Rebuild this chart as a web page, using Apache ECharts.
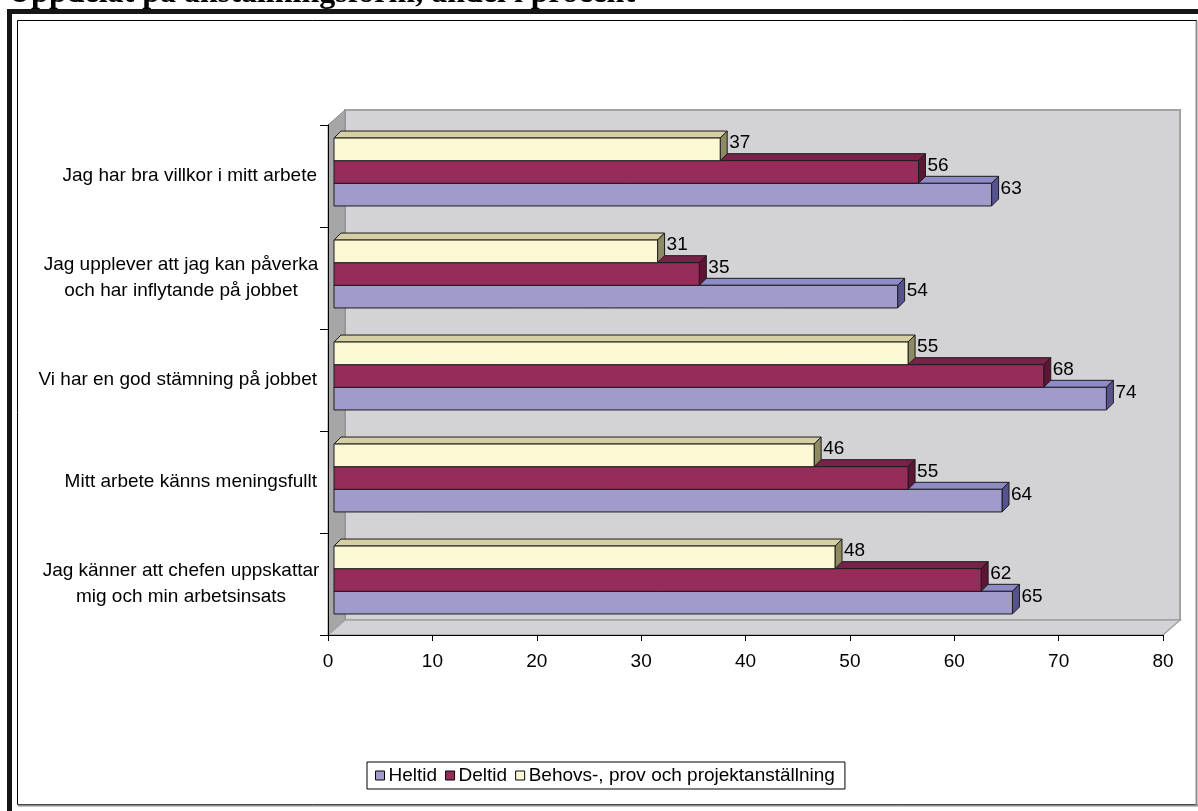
<!DOCTYPE html>
<html>
<head>
<meta charset="utf-8">
<script src="https://cdn.jsdelivr.net/npm/echarts@6/dist/echarts.min.js"></script>
<style>
html, body { margin: 0; padding: 0; background: #fff; }
#chart { width: 1198px; height: 811px; }
</style>
</head>
<body>
<div id="chart"></div>
<script>
// Statements, top to bottom
const categories = [
  'Jag har bra villkor i mitt arbete',
  'Jag upplever att jag kan påverka\noch har inflytande på jobbet',
  'Vi har en god stämning på jobbet',
  'Mitt arbete känns meningsfullt',
  'Jag känner att chefen uppskattar\nmig och min arbetsinsats'
];
const seriesNames = ['Heltid', 'Deltid', 'Behovs-, prov och projektanställning'];
const heltid = [63, 54, 74, 64, 65];
const deltid = [56, 35, 68, 55, 62];
const behovs = [37, 31, 55, 46, 48];
const xTicks = { min: 0, max: 80, interval: 10 };
const titleText = 'Uppdelat på anställningsform, andel i procent';

// Layout of the plot box (front plane) and the 3D depth
const GRID = { left: 328, top: 125, width: 835, height: 510 };
const WALL_DX = 17, WALL_DY = -15;   // depth of the walls
const BAR_DX = 7, BAR_DY = -7;       // depth of each bar
const OFF_X = 6, OFF_Y = -4;         // bars sit a little into the depth
const BAR_FRAC = 0.222;              // bar thickness as share of a category band

const FONT = '"Liberation Sans", Arial, sans-serif';

const palette = [
  { front: '#A09BCB', top: '#8F8BC6', side: '#55528F' },
  { front: '#962C5A', top: '#7A2149', side: '#5A1634' },
  { front: '#FCF8D4', top: '#D4D0A4', side: '#8E8B62' }
];

function renderBar(slot, colors) {
  return function (params, api) {
    const val = api.value(0);
    const cat = api.value(1);
    const base = api.coord([0, cat]);
    const end = api.coord([val, cat]);
    const band = api.size([0, 1])[1];
    const h = band * BAR_FRAC;
    const y0 = base[1] - 1.5 * h + slot * h + OFF_Y;
    const y1 = y0 + h;
    const x0 = base[0] + OFF_X;
    const x1 = end[0] + OFF_X;
    const edge = { stroke: '#1c1c1c', lineWidth: 1 };
    return {
      type: 'group',
      children: [
        { type: 'polygon', shape: { points: [[x0, y0], [x0 + BAR_DX, y0 + BAR_DY], [x1 + BAR_DX, y0 + BAR_DY], [x1, y0]] },
          style: Object.assign({ fill: colors.top }, edge) },
        { type: 'polygon', shape: { points: [[x1, y0], [x1 + BAR_DX, y0 + BAR_DY], [x1 + BAR_DX, y1 + BAR_DY], [x1, y1]] },
          style: Object.assign({ fill: colors.side }, edge) },
        { type: 'rect', shape: { x: x0, y: y0, width: x1 - x0, height: h },
          style: Object.assign({ fill: colors.front }, edge) },
        { type: 'text', x: x1 + BAR_DX + 2, y: y0 + 5, z2: 20,
          style: { text: String(val), fill: '#000', font: '19px ' + FONT, align: 'left', verticalAlign: 'middle' } }
      ]
    };
  };
}

const seriesValues = [heltid, deltid, behovs];
const slots = [2, 1, 0]; // Heltid lowest, Behovs topmost inside each band

const series = seriesValues.map((vals, s) => ({
  name: seriesNames[s],
  type: 'custom',
  z: 2 + s,
  renderItem: renderBar(slots[s], palette[s]),
  encode: { x: 0, y: 1 },
  itemStyle: { color: palette[s].front },
  data: vals.map((v, i) => [v, i])
}));

// Walls and floor of the 3D box
const gl = GRID.left, gt = GRID.top, gr = GRID.left + GRID.width, gb = GRID.top + GRID.height;
const walls = [
  { type: 'polygon', z: -10, shape: { points: [[gl + WALL_DX, gt + WALL_DY], [gr + WALL_DX, gt + WALL_DY], [gr + WALL_DX, gb + WALL_DY], [gl + WALL_DX, gb + WALL_DY]] },
    style: { fill: '#D3D3D6', stroke: '#A3A3A3', lineWidth: 2 } },
  { type: 'polygon', z: -10, shape: { points: [[gl, gt], [gl + WALL_DX, gt + WALL_DY], [gl + WALL_DX, gb + WALL_DY], [gl, gb]] },
    style: { fill: '#A6A6A6', stroke: '#8c8c8c', lineWidth: 1 } },
  { type: 'polygon', z: -10, shape: { points: [[gl, gb], [gl + WALL_DX, gb + WALL_DY], [gr + WALL_DX, gb + WALL_DY], [gr, gb]] },
    style: { fill: '#D3D3D6', stroke: '#A3A3A3', lineWidth: 1.5 } }
];

// Page frame and heading
const frame = [
  { type: 'text', z: 0, x: 8, y: -6,
    style: { text: titleText, fill: '#000', font: 'bold 32px "Liberation Serif", "Times New Roman", serif', verticalAlign: 'middle', align: 'left' } },
  { type: 'rect', z: 1, shape: { x: 7, y: 9, width: 1191, height: 5 }, style: { fill: '#161616' } },
  { type: 'rect', z: 1, shape: { x: 7, y: 9, width: 5, height: 802 }, style: { fill: '#161616' } },
  { type: 'rect', z: 1, shape: { x: 17.5, y: 20.5, width: 1179, height: 784 }, style: { fill: 'none', stroke: '#000', lineWidth: 1 } },
  { type: 'line', z: 1, shape: { x1: 1196.5, y1: 21, x2: 1196.5, y2: 806 }, style: { stroke: '#8e8e8e', lineWidth: 2 } },
  { type: 'line', z: 1, shape: { x1: 18, y1: 805.5, x2: 1198, y2: 805.5 }, style: { stroke: '#8e8e8e', lineWidth: 2 } }
];

const chart = echarts.init(document.getElementById('chart'), null, { renderer: 'canvas' });
chart.setOption({
  animation: false,
  backgroundColor: '#fff',
  grid: { left: GRID.left, top: GRID.top, width: GRID.width, height: GRID.height, containLabel: false },
  xAxis: {
    type: 'value',
    min: xTicks.min, max: xTicks.max, interval: xTicks.interval,
    z: 10,
    splitLine: { show: false },
    axisLine: { show: true, lineStyle: { color: '#000', width: 1 } },
    axisTick: { show: true, length: 6, lineStyle: { color: '#000' } },
    axisLabel: { color: '#000', fontSize: 19, fontFamily: FONT, margin: 17 }
  },
  yAxis: {
    type: 'category',
    inverse: true,
    data: categories,
    z: 10,
    axisLine: { show: true, lineStyle: { color: '#000', width: 1 } },
    axisTick: { show: true, length: 8, lineStyle: { color: '#000' } },
    axisLabel: {
      color: '#000', fontSize: 19, fontFamily: FONT, margin: 11, lineHeight: 26,
      formatter: v => v.indexOf('\n') >= 0 ? '{c|' + v + '}' : v,
      rich: { c: { width: 272, align: 'center', fontSize: 19, fontFamily: FONT, lineHeight: 26, color: '#000' } }
    }
  },
  legend: {
    data: seriesNames,
    left: 367, top: 762,
    orient: 'horizontal',
    icon: 'rect',
    itemWidth: 9, itemHeight: 9, itemGap: 8,
    itemStyle: { borderColor: '#000', borderWidth: 1 },
    backgroundColor: '#fff',
    borderColor: '#000', borderWidth: 1,
    padding: [4, 10, 4, 8],
    textStyle: { color: '#000', fontSize: 19, fontFamily: FONT, padding: [0, 0, 0, -1] }
  },
  graphic: walls.concat(frame),
  series: series
});
</script>
</body>
</html>
